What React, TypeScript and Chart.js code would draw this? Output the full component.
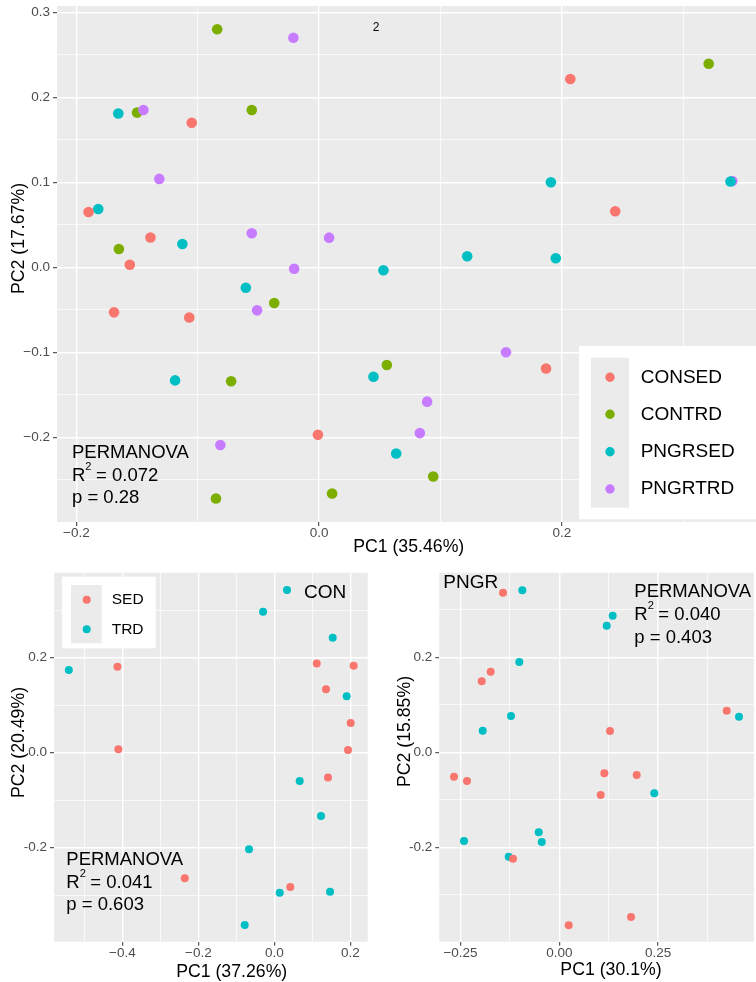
import React, { useEffect, useRef } from "react";
import { Chart, registerables } from "chart.js";

Chart.register(...registerables);

const FONT = '"Liberation Sans", Arial, Helvetica, sans-serif';

const COL_RED = "#F8766D";
const COL_GREEN = "#7CAE00";
const COL_CYAN = "#00BFC4";
const COL_PURPLE = "#C77CFF";

// ---------- Top panel (all groups) ----------
const CONSED_PC1 = [-0.105, 0.207, -0.19, -0.139, -0.156, 0.244, -0.169, -0.107, 0.187, -0.001];
const CONSED_PC2 = [0.17, 0.2215, 0.065, 0.035, 0.003, 0.066, -0.053, -0.059, -0.119, -0.197];
const CONTRD_PC1 = [-0.084, 0.321, -0.15, -0.0555, -0.165, -0.037, -0.0725, 0.0558, 0.094, -0.085, 0.0107];
const CONTRD_PC2 = [0.28, 0.2395, 0.182, 0.185, 0.0215, -0.042, -0.134, -0.115, -0.246, -0.272, -0.266];
const PNGRSED_PC1 = [-0.1655, -0.182, -0.1127, 0.191, 0.339, 0.053, 0.122, 0.195, -0.0604, -0.1187, 0.0448, 0.0635];
const PNGRSED_PC2 = [0.181, 0.0686, 0.0274, 0.1, 0.101, -0.0035, 0.013, 0.0106, -0.024, -0.133, -0.1287, -0.219];
const PNGRTRD_PC1 = [-0.0212, -0.1448, -0.1317, -0.0555, 0.0082, -0.0206, -0.0511, -0.0814, 0.3405, 0.154, 0.089, 0.083];
const PNGRTRD_PC2 = [0.27, 0.185, 0.104, 0.04, 0.0349, -0.0016, -0.0506, -0.209, 0.1015, -0.1, -0.158, -0.195];
const TOP_LEGEND = ["CONSED", "CONTRD", "PNGRSED", "PNGRTRD"];

// ---------- Bottom-left panel (CON) ----------
const CON_SED_PC1 = [-0.413, -0.4105, 0.1116, 0.2089, 0.136, 0.201, 0.194, 0.1413, -0.2358, 0.0421];
const CON_SED_PC2 = [0.181, 0.007, 0.188, 0.183, 0.1334, 0.0625, 0.0057, -0.052, -0.2645, -0.2827];
const CON_TRD_PC1 = [0.0334, -0.0297, 0.1537, -0.541, 0.1905, 0.0668, 0.1229, -0.0666, 0.0142, 0.1466, -0.0779];
const CON_TRD_PC2 = [0.3425, 0.297, 0.242, 0.174, 0.119, -0.0596, -0.1333, -0.2034, -0.2947, -0.2926, -0.3627];

// ---------- Bottom-right panel (PNGR) ----------
const PNGR_SED_PC1 = [-0.1424, -0.1736, -0.1963, 0.4235, 0.1283, -0.2664, -0.2335, 0.1139, 0.1958, 0.1047, -0.1171, 0.0238, 0.1814];
const PNGR_SED_PC2 = [0.336, 0.1697, 0.1495, 0.0876, 0.0448, -0.0513, -0.0604, -0.0442, -0.0478, -0.0899, -0.224, -0.3642, -0.3467];
const PNGR_TRD_PC1 = [-0.0936, 0.135, 0.1199, -0.1012, -0.1222, -0.1938, 0.4546, 0.2403, -0.2411, -0.0521, -0.0445, -0.128];
const PNGR_TRD_PC2 = [0.341, 0.2876, 0.2665, 0.19, 0.0764, 0.0455, 0.075, -0.0863, -0.1867, -0.1684, -0.1888, -0.2197];
const SUB_LEGEND = ["SED", "TRD"];

// ---------- Ticks ----------
const TOP_X_MAJOR = [-0.2, 0, 0.2];
const TOP_X_LABELS = ["\u22120.2", "0.0", "0.2"];
const TOP_X_MINOR = [-0.1, 0.1, 0.3];
const TOP_Y_MAJOR = [-0.2, -0.1, 0, 0.1, 0.2, 0.3];
const TOP_Y_LABELS = ["\u22120.2", "\u22120.1", "0.0", "0.1", "0.2", "0.3"];
const TOP_Y_MINOR = [-0.25, -0.15, -0.05, 0.05, 0.15, 0.25];

const CON_X_MAJOR = [-0.4, -0.2, 0, 0.2];
const CON_X_LABELS = ["\u22120.4", "\u22120.2", "0.0", "0.2"];
const CON_X_MINOR = [-0.5, -0.3, -0.1, 0.1];

const SUB_Y_MAJOR = [-0.2, 0, 0.2];
const SUB_Y_LABELS = ["-0.2", "0.0", "0.2"];
const SUB_Y_MINOR = [-0.3, -0.1, 0.1, 0.3];

const PNGR_X_MAJOR = [-0.25, 0, 0.25];
const PNGR_X_LABELS = ["\u22120.25", "0.00", "0.25"];
const PNGR_X_MINOR = [-0.125, 0.125, 0.375];

type AxisSpec = { min: number; max: number; major: number[]; labels: string[]; minor: number[] };
type DS = { x: number[]; y: number[]; color: string };
type PanelSpec = {
  left: number; top: number; width: number; height: number;
  area: { left: number; top: number; right: number; bottom: number };
  x: AxisSpec; y: AxisSpec;
  datasets: DS[];
  radius: number;
  overlay: (ctx: CanvasRenderingContext2D) => void;
};

function text(ctx: CanvasRenderingContext2D, s: string, x: number, y: number, size: number, align: CanvasTextAlign = "left", color = "#000000") {
  ctx.font = `${size}px ${FONT}`;
  ctx.fillStyle = color;
  ctx.textAlign = align;
  ctx.textBaseline = "middle";
  ctx.fillText(s, x, y);
}

function vtext(ctx: CanvasRenderingContext2D, s: string, x: number, y: number, size: number) {
  ctx.save();
  ctx.translate(x, y);
  ctx.rotate(-Math.PI / 2);
  text(ctx, s, 0, 0, size, "center");
  ctx.restore();
}

function permanova(ctx: CanvasRenderingContext2D, x: number, ys: number[], r2: string, p: string, size: number) {
  text(ctx, "PERMANOVA", x, ys[0], size);
  text(ctx, "R", x, ys[1], size);
  ctx.font = `${size}px ${FONT}`;
  const wR = ctx.measureText("R").width;
  const sup = size * 0.6;
  text(ctx, "2", x + wR, ys[1] - size * 0.47, sup);
  ctx.font = `${sup}px ${FONT}`;
  const w2 = ctx.measureText("2").width;
  text(ctx, "= " + r2, x + wR + w2 + 4.5, ys[1], size);
  text(ctx, "p = " + p, x, ys[2], size);
}

function legend(ctx: CanvasRenderingContext2D, box: number[], keyBox: number[], keyX: number, ys: number[], labels: string[], colors: string[], r: number, labelX: number, size: number) {
  ctx.fillStyle = "#FFFFFF";
  ctx.fillRect(box[0], box[1], box[2], box[3]);
  ctx.fillStyle = "#EBEBEB";
  ctx.fillRect(keyBox[0], keyBox[1], keyBox[2], keyBox[3]);
  labels.forEach((l, i) => {
    ctx.beginPath();
    ctx.arc(keyX, ys[i], r, 0, Math.PI * 2);
    ctx.fillStyle = colors[i];
    ctx.fill();
    text(ctx, l, labelX, ys[i], size);
  });
}

function makeScale(a: AxisSpec, axis: "x" | "y", size: number, padding: number) {
  const all = [
    ...a.major.map((v, i) => ({ v, label: a.labels[i], major: true })),
    ...a.minor.map((v) => ({ v, label: "", major: false })),
  ].sort((p, q) => p.v - q.v);
  return {
    type: "linear",
    min: a.min,
    max: a.max,
    afterBuildTicks: (s: any) => {
      s.ticks = all.map((t) => ({ value: t.v }));
    },
    afterFit: (s: any) => {
      if (axis === "x") s.height = size;
      else s.width = size;
      s.paddingTop = 0;
      s.paddingBottom = 0;
      s.paddingLeft = 0;
      s.paddingRight = 0;
    },
    ticks: {
      autoSkip: false,
      maxRotation: 0,
      minRotation: 0,
      padding,
      color: "#4D4D4D",
      font: { family: FONT, size: 13.5 },
      callback: (_v: any, idx: number) => (all[idx] ? all[idx].label : ""),
    },
    grid: {
      color: "#FFFFFF",
      lineWidth: (c: any) => (all[c.index] && all[c.index].major ? 1.4 : 0.7),
      tickColor: (c: any) => (all[c.index] && all[c.index].major ? "#333333" : "rgba(0,0,0,0)"),
      tickLength: 4,
      tickWidth: 1,
      drawTicks: true,
    },
    border: { display: false },
  };
}

function Panel({ spec }: { spec: PanelSpec }) {
  const ref = useRef<HTMLCanvasElement | null>(null);
  useEffect(() => {
    if (!ref.current) return;
    const A = spec.area;
    const pad = { top: A.top, right: spec.width - A.right, left: 0, bottom: 0 };
    const bg = {
      id: "panelBg",
      beforeDraw(chart: any) {
        const { ctx, chartArea } = chart;
        ctx.save();
        ctx.fillStyle = "#EBEBEB";
        ctx.fillRect(chartArea.left, chartArea.top, chartArea.right - chartArea.left, chartArea.bottom - chartArea.top);
        ctx.restore();
      },
    };
    const over = {
      id: "overlay",
      afterDraw(chart: any) {
        const ctx = chart.ctx as CanvasRenderingContext2D;
        ctx.save();
        ctx.translate(-spec.left, -spec.top);
        spec.overlay(ctx);
        ctx.restore();
      },
    };
    const chart = new Chart(ref.current, {
      type: "scatter",
      data: {
        datasets: spec.datasets.map((d) => ({
          data: d.x.map((v, i) => ({ x: v, y: d.y[i] })),
          pointBackgroundColor: d.color,
          pointBorderWidth: 0,
          pointBorderColor: d.color,
          pointRadius: spec.radius,
          pointHoverRadius: spec.radius,
          showLine: false,
        })),
      },
      options: {
        responsive: false,
        maintainAspectRatio: false,
        animation: false,
        events: [],
        layout: { padding: pad, autoPadding: false },
        plugins: { legend: { display: false }, tooltip: { enabled: false }, title: { display: false } },
        scales: {
          x: makeScale(spec.x, "x", spec.height - A.bottom, -1) as any,
          y: makeScale(spec.y, "y", A.left, 3) as any,
        },
      },
      plugins: [bg, over],
    } as any);
    // correct any residual layout offset so the plot panel lands on its target area
    for (let k = 0; k < 2; k++) {
      const ca = chart.chartArea;
      const dR = ca.right - A.right;
      const dT = A.top - ca.top;
      const dB = ca.bottom - A.bottom;
      if (Math.abs(dR) < 0.1 && Math.abs(dT) < 0.1 && Math.abs(dB) < 0.1) break;
      pad.right += dR;
      pad.top += dT;
      pad.bottom += dB;
      (chart.options as any).layout.padding = { ...pad };
      chart.update();
    }
    return () => chart.destroy();
  }, [spec]);
  return (
    <canvas
      ref={ref}
      width={spec.width}
      height={spec.height}
      style={{ position: "absolute", left: spec.left, top: spec.top, width: spec.width, height: spec.height }}
    />
  );
}

const TOP_SPEC: PanelSpec = {
  left: 0, top: 0, width: 756, height: 560,
  area: { left: 57, top: 6, right: 756, bottom: 522 },
  x: { min: -0.216, max: 0.36, major: TOP_X_MAJOR, labels: TOP_X_LABELS, minor: TOP_X_MINOR },
  y: { min: -0.2996, max: 0.3074, major: TOP_Y_MAJOR, labels: TOP_Y_LABELS, minor: TOP_Y_MINOR },
  datasets: [
    { x: CONSED_PC1, y: CONSED_PC2, color: COL_RED },
    { x: PNGRSED_PC1, y: PNGRSED_PC2, color: COL_CYAN },
    { x: PNGRTRD_PC1, y: PNGRTRD_PC2, color: COL_PURPLE },
    { x: CONTRD_PC1, y: CONTRD_PC2, color: COL_GREEN },
  ],
  radius: 5.3,
  overlay: (ctx) => {
    text(ctx, "2", 376, 27.7, 12, "center");
    permanova(ctx, 72, [452.7, 476, 497.7], "0.072", "0.28", 18.5);
    legend(ctx, [579, 346, 177, 173.3], [591, 357.7, 38, 150], 610, [377.3, 414.3, 451.7, 489], TOP_LEGEND, [COL_RED, COL_GREEN, COL_CYAN, COL_PURPLE], 4.7, 640.7, 19);
    text(ctx, "PC1 (35.46%)", 408.7, 547.3, 17.7, "center");
    vtext(ctx, "PC2 (17.67%)", 19.5, 238.5, 17.7);
  },
};

const CON_SPEC: PanelSpec = {
  left: 0, top: 560, width: 378, height: 422,
  area: { left: 54, top: 12.7, right: 367.7, bottom: 381.7 },
  x: { min: -0.58, max: 0.2458, major: CON_X_MAJOR, labels: CON_X_LABELS, minor: CON_X_MINOR },
  y: { min: -0.398, max: 0.379, major: SUB_Y_MAJOR, labels: SUB_Y_LABELS, minor: SUB_Y_MINOR },
  datasets: [
    { x: CON_SED_PC1, y: CON_SED_PC2, color: COL_RED },
    { x: CON_TRD_PC1, y: CON_TRD_PC2, color: COL_CYAN },
  ],
  radius: 4,
  overlay: (ctx) => {
    legend(ctx, [62, 576.7, 93.7, 71.6], [71, 585, 30.7, 58.3], 86.7, [599.7, 629.3], SUB_LEGEND, [COL_RED, COL_CYAN], 4, 111.7, 15.5);
    text(ctx, "CON", 304, 592.5, 19);
    permanova(ctx, 66.3, [860, 882.7, 905], "0.041", "0.603", 18.5);
    text(ctx, "PC1 (37.26%)", 231.7, 971.7, 17.7, "center");
    vtext(ctx, "PC2 (20.49%)", 19, 742.5, 17.7);
  },
};

const PNGR_SPEC: PanelSpec = {
  left: 378, top: 560, width: 378, height: 422,
  area: { left: 61.3, top: 12.7, right: 376, bottom: 381.7 },
  x: { min: -0.3036, max: 0.4925, major: PNGR_X_MAJOR, labels: PNGR_X_LABELS, minor: PNGR_X_MINOR },
  y: { min: -0.3987, max: 0.378, major: SUB_Y_MAJOR, labels: SUB_Y_LABELS, minor: SUB_Y_MINOR },
  datasets: [
    { x: PNGR_SED_PC1, y: PNGR_SED_PC2, color: COL_RED },
    { x: PNGR_TRD_PC1, y: PNGR_TRD_PC2, color: COL_CYAN },
  ],
  radius: 4,
  overlay: (ctx) => {
    text(ctx, "PNGR", 443.3, 582.5, 19);
    permanova(ctx, 634.3, [592.3, 615, 637.7], "0.040", "0.403", 18.5);
    text(ctx, "PC1 (30.1%)", 611, 970, 17.7, "center");
    vtext(ctx, "PC2 (15.85%)", 405, 731.5, 17.7);
  },
};

export default function App() {
  return (
    <div style={{ position: "absolute", left: 0, top: 0, width: 756, height: 982, background: "#FFFFFF" }}>
      <Panel spec={TOP_SPEC} />
      <Panel spec={CON_SPEC} />
      <Panel spec={PNGR_SPEC} />
    </div>
  );
}
